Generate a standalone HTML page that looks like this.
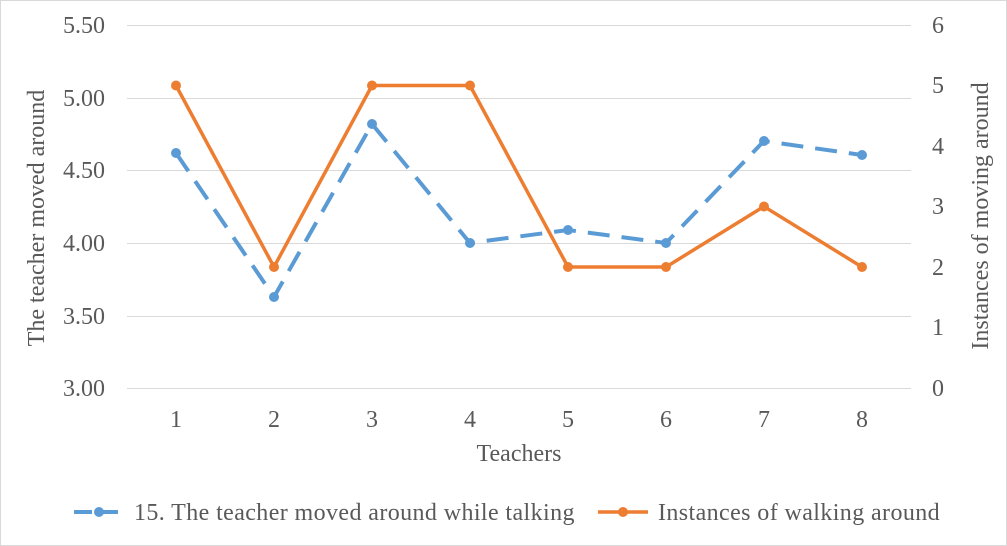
<!DOCTYPE html>
<html><head><style>body{margin:0;background:#fff}svg{display:block}text{font-family:"Liberation Serif",serif;fill:#595959}</style></head>
<body>
<svg width="1007" height="546" viewBox="0 0 1007 546">
<rect x="0.5" y="0.5" width="1006" height="545" fill="#fff" stroke="#d9d9d9"/>
<g stroke="#d9d9d9" stroke-width="1">
<line x1="127" x2="911" y1="25.5" y2="25.5"/><line x1="127" x2="911" y1="98.5" y2="98.5"/>
<line x1="127" x2="911" y1="170.5" y2="170.5"/><line x1="127" x2="911" y1="243.5" y2="243.5"/>
<line x1="127" x2="911" y1="316.5" y2="316.5"/><line x1="127" x2="911" y1="388.5" y2="388.5"/>
</g>
<g font-size="24" text-anchor="end">
<text x="105" y="33">5.50</text><text x="105" y="106">5.00</text><text x="105" y="178">4.50</text>
<text x="105" y="251">4.00</text><text x="105" y="324">3.50</text><text x="105" y="396">3.00</text>
</g>
<g font-size="24" text-anchor="start">
<text x="932" y="33">6</text><text x="932" y="93">5</text><text x="932" y="154">4</text><text x="932" y="214">3</text>
<text x="932" y="275">2</text><text x="932" y="335">1</text><text x="932" y="396">0</text>
</g>
<g font-size="24" text-anchor="middle">
<text x="176" y="427">1</text><text x="274" y="427">2</text><text x="372" y="427">3</text><text x="470" y="427">4</text>
<text x="568" y="427">5</text><text x="666" y="427">6</text><text x="764" y="427">7</text><text x="862" y="427">8</text>
<text x="519" y="461">Teachers</text>
<text transform="translate(44,218) rotate(-90)">The teacher moved around</text>
<text transform="translate(988,216) rotate(-90)">Instances of moving around</text>
</g>
<polyline fill="none" stroke="#5b9bd5" stroke-width="4" stroke-dasharray="22,12" points="176,153 274,297 372,124 470,243 568,230 666,243 764,141 862,155"/>
<g fill="#5b9bd5"><circle cx="176" cy="153" r="5"/><circle cx="274" cy="297" r="5"/><circle cx="372" cy="124" r="5"/><circle cx="470" cy="243" r="5"/><circle cx="568" cy="230" r="5"/><circle cx="666" cy="243" r="5"/><circle cx="764" cy="141" r="5"/><circle cx="862" cy="155" r="5"/></g>
<polyline fill="none" stroke="#ed7d31" stroke-width="3.5" points="176,85.5 274,267 372,85.5 470,85.5 568,267 666,267 764,206.5 862,267"/>
<g fill="#ed7d31"><circle cx="176" cy="85.5" r="5"/><circle cx="274" cy="267" r="5"/><circle cx="372" cy="85.5" r="5"/><circle cx="470" cy="85.5" r="5"/><circle cx="568" cy="267" r="5"/><circle cx="666" cy="267" r="5"/><circle cx="764" cy="206.5" r="5"/><circle cx="862" cy="267" r="5"/></g>
<line x1="74" x2="118" y1="512" y2="512" stroke="#5b9bd5" stroke-width="4" stroke-dasharray="18,8"/>
<circle cx="99" cy="512" r="5" fill="#5b9bd5"/>
<text x="134" y="520" font-size="24" letter-spacing="0.4">15. The teacher moved around while talking</text>
<line x1="598" x2="648" y1="512" y2="512" stroke="#ed7d31" stroke-width="3.5"/>
<circle cx="623" cy="512" r="5" fill="#ed7d31"/>
<text x="658" y="520" font-size="24" letter-spacing="0.4">Instances of walking around</text>
</svg>
</body></html>
